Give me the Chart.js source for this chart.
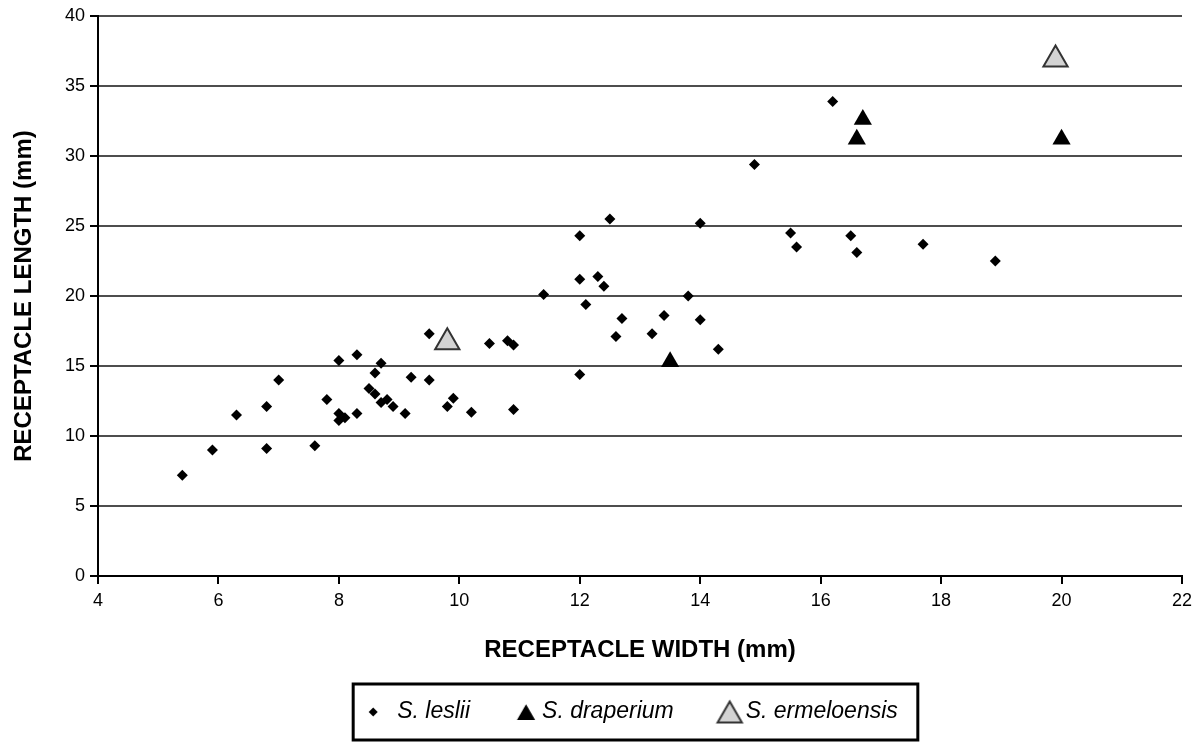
<!DOCTYPE html>
<html>
<head>
<meta charset="utf-8">
<script src="https://cdn.jsdelivr.net/npm/chart.js@4.4.1/dist/chart.umd.min.js"></script>
<style>
html,body{margin:0;padding:0;background:#fff;}
#wrap{width:1203px;height:742px;position:relative;}
</style>
</head>
<body>
<div id="wrap"><canvas id="c"></canvas></div>
<script>
// ---- data ----
const lesliiWidth  = [5.4, 5.9, 6.3, 6.8, 6.8, 7.0, 7.6, 7.8, 8.0, 8.3, 8.0, 8.0, 8.1, 8.3, 8.5, 8.6, 8.6, 8.7, 8.7, 8.8, 8.9, 9.1, 9.2, 9.5, 9.5, 9.8, 9.9, 10.2, 10.5, 10.8, 10.9, 10.9, 11.4, 12.0, 12.0, 12.0, 12.1, 12.3, 12.4, 12.5, 12.6, 12.7, 13.2, 13.4, 13.8, 14.0, 14.0, 14.3, 14.9, 15.5, 15.6, 16.2, 16.5, 16.6, 17.7, 18.9];
const lesliiLength = [7.2, 9.0, 11.5, 12.1, 9.1, 14.0, 9.3, 12.6, 15.4, 15.8, 11.6, 11.1, 11.3, 11.6, 13.4, 13.0, 14.5, 15.2, 12.4, 12.6, 12.1, 11.6, 14.2, 14.0, 17.3, 12.1, 12.7, 11.7, 16.6, 16.8, 16.5, 11.9, 20.1, 24.3, 21.2, 14.4, 19.4, 21.4, 20.7, 25.5, 17.1, 18.4, 17.3, 18.6, 20.0, 25.2, 18.3, 16.2, 29.4, 24.5, 23.5, 33.9, 24.3, 23.1, 23.7, 22.5];
const draperiumWidth  = [13.5, 16.6, 16.7, 20.0];
const draperiumLength = [15.3, 31.2, 32.6, 31.2];
const ermeloensisWidth  = [9.8, 19.9];
const ermeloensisLength = [16.7, 36.9];
const seriesNames = ['S. leslii', 'S. draperium', 'S. ermeloensis'];
const xTicks = [4, 6, 8, 10, 12, 14, 16, 18, 20, 22];
const yTicks = [0, 5, 10, 15, 20, 25, 30, 35, 40];
const xTitle = 'RECEPTACLE WIDTH (mm)';
const yTitle = 'RECEPTACLE LENGTH (mm)';

// ---- helpers ----
const FAMILY = "'Liberation Sans', Arial, Helvetica, sans-serif";
function toPoints(xs, ys) { return xs.map((x, i) => ({ x: x, y: ys[i] })); }

function makeIcon(shape, r, fill, stroke, lw, dx) {
  const pad = 3;
  let W = Math.ceil(2 * (Math.abs(dx) + r + pad)); if (W % 2) W++;
  let H = Math.ceil(2 * (r + pad)); if (H % 2) H++;
  const c = document.createElement('canvas');
  c.width = W; c.height = H;
  const g = c.getContext('2d');
  const cx = W / 2 + dx, cy = H / 2;
  g.beginPath();
  if (shape === 'diamond') {
    g.moveTo(cx, cy - r); g.lineTo(cx + r, cy); g.lineTo(cx, cy + r); g.lineTo(cx - r, cy);
  } else {
    const h = r * 1.5, w = r * Math.sqrt(3);
    g.moveTo(cx, cy - h / 2); g.lineTo(cx + w / 2, cy + h / 2); g.lineTo(cx - w / 2, cy + h / 2);
  }
  g.closePath();
  g.fillStyle = fill; g.fill();
  if (lw) { g.lineWidth = lw; g.strokeStyle = stroke; g.stroke(); }
  return c;
}
const legendIcons = [
  makeIcon('diamond', 4.5, '#000', '#000', 0, -10.75),
  makeIcon('triangle', 10.5, '#000', '#000', 0, -2.75),
  makeIcon('triangle', 14, '#d3d3d3', '#333', 2, -2.75)
];

const legendFrame = {
  id: 'legendFrame',
  afterDraw(chart) {
    const lg = chart.legend;
    if (!lg || !lg.legendHitBoxes || !lg.legendHitBoxes.length) return;
    const hb = lg.legendHitBoxes;
    const first = hb[0], last = hb[hb.length - 1];
    const l = first.left - 29, r = last.left + last.width + 20;
    const t = first.top - 16.5, b = first.top + first.height + 16.5;
    const ctx = chart.ctx;
    ctx.save();
    ctx.lineWidth = 3;
    ctx.strokeStyle = '#000';
    ctx.strokeRect(l, t, r - l, b - t);
    ctx.restore();
  }
};

new Chart(document.getElementById('c'), {
  type: 'scatter',
  data: {
    datasets: [
      { label: seriesNames[0], data: toPoints(lesliiWidth, lesliiLength), pointStyle: 'rectRot', pointRadius: 5.5, pointHoverRadius: 5.5, backgroundColor: '#000', borderColor: '#000', borderWidth: 0 },
      { label: seriesNames[1], data: toPoints(draperiumWidth, draperiumLength), pointStyle: 'triangle', pointRadius: 10.5, pointHoverRadius: 10.5, backgroundColor: '#000', borderColor: '#000', borderWidth: 0 },
      { label: seriesNames[2], data: toPoints(ermeloensisWidth, ermeloensisLength), pointStyle: 'triangle', pointRadius: 14, pointHoverRadius: 14, backgroundColor: '#d3d3d3', borderColor: '#333', borderWidth: 2 }
    ]
  },
  options: {
    responsive: true,
    maintainAspectRatio: false,
    animation: false,
    layout: { padding: { top: 12, right: 21, bottom: 8.5, left: 0 } },
    scales: {
      x: {
        type: 'linear',
        min: xTicks[0], max: xTicks[xTicks.length - 1],
        afterBuildTicks(scale) { scale.ticks = xTicks.map(v => ({ value: v })); },
        afterFit(scale) { scale.height = 67.5; },
        grid: { drawOnChartArea: false, drawTicks: true, tickLength: 8, tickColor: '#000', tickWidth: 2, color: '#000', lineWidth: 2 },
        border: { display: true, color: '#000', width: 2 },
        ticks: { padding: 6, color: '#000', font: { family: FAMILY, size: 18 }, maxRotation: 0, autoSkip: false },
        title: { display: true, text: xTitle, color: '#000', font: { family: FAMILY, size: 24, weight: 'bold' }, padding: { top: 0, bottom: -20.9 } }
      },
      y: {
        type: 'linear',
        min: yTicks[0], max: yTicks[yTicks.length - 1],
        afterBuildTicks(scale) { scale.ticks = yTicks.map(v => ({ value: v })); },
        afterFit(scale) { scale.width = 98; },
        grid: { drawOnChartArea: true, drawTicks: true, tickLength: 8, tickColor: '#000', tickWidth: 2, color: '#4d4d4d', lineWidth: 2 },
        border: { display: true, color: '#000', width: 2 },
        ticks: { padding: 5, color: '#000', font: { family: FAMILY, size: 18 }, autoSkip: false },
        title: { display: true, text: yTitle, color: '#000', font: { family: FAMILY, size: 24, weight: 'bold' }, padding: { top: 9.6, bottom: 0 } }
      }
    },
    plugins: {
      tooltip: { enabled: false },
      legend: {
        position: 'bottom',
        fullSize: false,
        labels: {
          usePointStyle: true,
          boxWidth: 3.5,
          boxHeight: 23,
          padding: 57,
          color: '#000',
          font: { family: FAMILY, size: 23, style: 'italic' },
          generateLabels(chart) {
            return chart.data.datasets.map((ds, i) => ({
              text: ds.label, pointStyle: legendIcons[i], datasetIndex: i, hidden: false,
              lineWidth: 0, fillStyle: '#000', strokeStyle: '#000', fontColor: '#000'
            }));
          }
        }
      }
    }
  },
  plugins: [legendFrame]
});
</script>
</body>
</html>
